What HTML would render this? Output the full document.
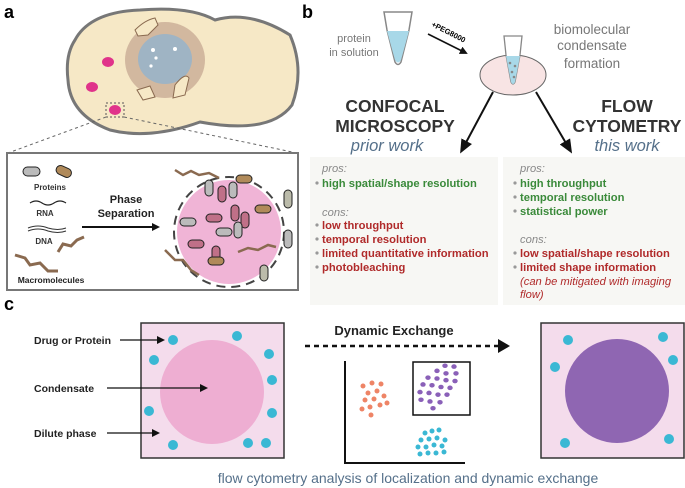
<!DOCTYPE html>
<html><head><meta charset="utf-8"><style>
body{margin:0;background:#fff;overflow:hidden}
svg{display:block;font-family:"Liberation Sans",sans-serif}
</style></head><body>
<svg width="685" height="488" viewBox="0 0 685 488" xmlns="http://www.w3.org/2000/svg">
<defs>
<marker id="ah" markerWidth="8" markerHeight="8" refX="6" refY="4" orient="auto" markerUnits="userSpaceOnUse"><path d="M0,0 L8,4 L0,8z" fill="#111"/></marker>
<marker id="ab" markerWidth="14" markerHeight="12" refX="10" refY="6" orient="auto" markerUnits="userSpaceOnUse"><path d="M0,0 L14,6 L0,12z" fill="#111"/></marker>
</defs>
<!-- a -->
<text x="4" y="18" font-size="18" font-weight="bold">a</text>
<path d="M75,40 Q90,12 140,10 Q190,6 215,20 Q250,10 290,35 Q305,70 292,105 Q270,135 200,122 Q150,140 110,130 Q70,115 68,80 Q65,55 75,40z" fill="#f6e8c6" stroke="#777" stroke-width="3"/>
<ellipse cx="165" cy="60" rx="40" ry="38" fill="#b49080" opacity="0.55"/>
<ellipse cx="165" cy="59" rx="27" ry="25" fill="#9fb4c4"/>
<circle cx="153" cy="50" r="2" fill="#fff"/><circle cx="175" cy="49" r="2" fill="#fff"/><circle cx="156" cy="58" r="1.6" fill="#fff"/><circle cx="151" cy="66" r="1.6" fill="#fff"/>
<path d="M135,30 Q145,20 155,18 L158,25 L148,35 L138,36z M137,90 L150,86 L155,97 L143,100z M175,85 Q185,72 189,78 L185,95 L173,98z" fill="#f6e8c6" stroke="#8a6a50" stroke-width="1"/>
<ellipse cx="108" cy="62" rx="6" ry="5" fill="#e0338a"/>
<ellipse cx="92" cy="87" rx="6" ry="5" fill="#e0338a"/>
<ellipse cx="115" cy="110" rx="6" ry="5" fill="#e0338a"/>
<rect x="106" y="103" width="18" height="14" fill="none" stroke="#555" stroke-dasharray="2,2"/>
<line x1="106" y1="117" x2="8" y2="153" stroke="#666" stroke-dasharray="3,3"/>
<line x1="124" y1="117" x2="297" y2="153" stroke="#666" stroke-dasharray="3,3"/>
<rect x="7" y="153" width="291" height="137" fill="#fff" stroke="#777" stroke-width="2"/>
<rect x="23" y="167" width="17" height="9" rx="4.5" fill="#bbb" stroke="#222"/>
<rect x="56" y="167" width="16" height="9" rx="4.5" fill="#b08a5a" stroke="#222" transform="rotate(25 64 171)"/>
<text x="50" y="190" font-size="8" font-weight="bold" text-anchor="middle" fill="#333">Proteins</text>
<path d="M30,203 q6,-4 12,0 q6,4 12,0 q6,-4 12,0" fill="none" stroke="#222" stroke-width="1.2"/>
<text x="45" y="216" font-size="8" font-weight="bold" text-anchor="middle" fill="#333">RNA</text>
<path d="M28,228 q10,-4 20,0 q10,3 18,0 M28,231 q10,-4 20,0 q10,3 18,0" fill="none" stroke="#333" stroke-width="1"/>
<text x="44" y="244" font-size="8" font-weight="bold" text-anchor="middle" fill="#333">DNA</text>
<path d="M15,255 l10,3 l5,7 l10,-2 l8,8 l10,0 M58,252 l5,-8 l8,2 l6,-6 l7,-3" fill="none" stroke="#8a6a50" stroke-width="3"/>
<text x="51" y="283" font-size="8.5" font-weight="bold" text-anchor="middle" fill="#222">Macromolecules</text>
<text x="126" y="203" font-size="11" font-weight="bold" text-anchor="middle" fill="#222">Phase</text>
<text x="126" y="217" font-size="11" font-weight="bold" text-anchor="middle" fill="#222">Separation</text>
<line x1="82" y1="227" x2="158" y2="227" stroke="#111" stroke-width="2" marker-end="url(#ah)"/>
<circle cx="229" cy="232" r="52" fill="#f0b4d6"/>
<circle cx="229" cy="232" r="55" fill="none" stroke="#444" stroke-width="2" stroke-dasharray="9,6"/>
<g stroke="#222" stroke-width="1">
<rect x="205" y="180" width="8" height="16" rx="4" fill="#bbb"/>
<rect x="218" y="186" width="8" height="16" rx="4" fill="#c07088"/>
<rect x="229" y="182" width="8" height="16" rx="4" fill="#bbb"/>
<rect x="180" y="218" width="16" height="8" rx="4" fill="#bbb"/>
<rect x="206" y="214" width="16" height="8" rx="4" fill="#c07088"/>
<rect x="231" y="205" width="8" height="16" rx="4" fill="#c07088"/>
<rect x="241" y="212" width="8" height="16" rx="4" fill="#c07088"/>
<rect x="216" y="228" width="16" height="8" rx="4" fill="#bbb"/>
<rect x="234" y="222" width="8" height="16" rx="4" fill="#bbb"/>
<rect x="188" y="240" width="16" height="8" rx="4" fill="#c07088"/>
<rect x="212" y="246" width="8" height="16" rx="4" fill="#c07088"/>
<rect x="255" y="205" width="16" height="8" rx="4" fill="#b08a5a"/>
<rect x="236" y="175" width="16" height="8" rx="4" fill="#b08a5a"/>
<rect x="208" y="257" width="16" height="8" rx="4" fill="#b08a5a"/>
<rect x="284" y="190" width="8" height="18" rx="4" fill="#bba"/>
<rect x="284" y="230" width="8" height="18" rx="4" fill="#bbb"/>
<rect x="260" y="265" width="8" height="16" rx="4" fill="#bba"/>
</g>
<path d="M175,170 l8,5 l8,-4 l8,4 l10,-2 l10,5 M165,250 l10,10 l8,0 l8,10 l8,5 M238,252 l10,-4 l10,2 l10,-5 l8,2" fill="none" stroke="#8a6a50" stroke-width="2.5"/>
<!-- b -->
<text x="302" y="18" font-size="18" font-weight="bold">b</text>
<path d="M384,12 L412,12 L409,30 L401,62 Q398,67 395,62 L387,30z" fill="#fff" stroke="#888" stroke-width="1.5"/>
<path d="M387,31 L409,31 L401,60 Q398,65 395,60z" fill="#a8d8e8"/>
<text x="354" y="42" font-size="11" fill="#777" text-anchor="middle">protein</text>
<text x="354" y="56" font-size="11" fill="#777" text-anchor="middle">in solution</text>
<line x1="428" y1="34" x2="466" y2="53" stroke="#111" stroke-width="1.6" marker-end="url(#ah)"/>
<text x="431" y="26" font-size="7.5" font-weight="bold" transform="rotate(27 431 26)">+PEG8000</text>
<ellipse cx="513" cy="75" rx="33" ry="20" fill="#f8e4e4" stroke="#666"/>
<path d="M504,36 L522,36 L520,55 L515,82 Q513,86 511,82 L506,55z" fill="#fff" stroke="#888" stroke-width="1.3"/>
<path d="M506,56 L520,56 L515,82 Q513,86 511,82z" fill="#a8d8e8"/>
<circle cx="510" cy="63" r="1.3" fill="#888"/><circle cx="515" cy="66" r="1.3" fill="#888"/><circle cx="512" cy="72" r="1.3" fill="#888"/><circle cx="514" cy="77" r="1.3" fill="#888"/>
<text x="592" y="34" font-size="13.5" fill="#777" text-anchor="middle">biomolecular</text>
<text x="592" y="50" font-size="13.5" fill="#777" text-anchor="middle">condensate</text>
<text x="592" y="68" font-size="13.5" fill="#777" text-anchor="middle">formation</text>
<line x1="493" y1="92" x2="462" y2="150" stroke="#111" stroke-width="2" marker-end="url(#ab)"/>
<line x1="536" y1="92" x2="570" y2="150" stroke="#111" stroke-width="2" marker-end="url(#ab)"/>
<g font-size="17.5" font-weight="bold" fill="#333" text-anchor="middle">
<text x="395" y="112">CONFOCAL</text><text x="395" y="132">MICROSCOPY</text>
<text x="627" y="112">FLOW</text><text x="627" y="132">CYTOMETRY</text></g>
<g font-size="16.5" font-style="italic" fill="#55708a" text-anchor="middle">
<text x="387" y="151">prior work</text><text x="627" y="151">this work</text></g>
<rect x="310" y="157" width="188" height="148" fill="#f7f7f4"/>
<rect x="503" y="157" width="182" height="148" fill="#f7f7f4"/>
<g font-size="11.2" font-weight="bold">
<text x="322" y="172" font-weight="normal" font-style="italic" fill="#888">pros:</text>
<text x="322" y="187" fill="#3a8a3a">high spatial/shape resolution</text>
<text x="322" y="216" font-weight="normal" font-style="italic" fill="#888">cons:</text>
<text x="322" y="229" fill="#b02a2a">low throughput</text>
<text x="322" y="243" fill="#b02a2a">temporal resolution</text>
<text x="322" y="257" fill="#b02a2a">limited quantitative information</text>
<text x="322" y="271" fill="#b02a2a">photobleaching</text>
<text x="520" y="172" font-weight="normal" font-style="italic" fill="#888">pros:</text>
<text x="520" y="187" fill="#3a8a3a">high throughput</text>
<text x="520" y="201" fill="#3a8a3a">temporal resolution</text>
<text x="520" y="215" fill="#3a8a3a">statistical power</text>
<text x="520" y="243" font-weight="normal" font-style="italic" fill="#888">cons:</text>
<text x="520" y="257" fill="#b02a2a">low spatial/shape resolution</text>
<text x="520" y="271" fill="#b02a2a">limited shape information</text>
<text x="520" y="285" font-weight="normal" font-style="italic" fill="#b02a2a">(can be mitigated with imaging</text>
<text x="520" y="298" font-weight="normal" font-style="italic" fill="#b02a2a">flow)</text>
</g>
<g fill="#999"><circle cx="317" cy="183" r="1.6"/><circle cx="317" cy="225" r="1.6"/><circle cx="317" cy="239" r="1.6"/><circle cx="317" cy="253" r="1.6"/><circle cx="317" cy="267" r="1.6"/>
<circle cx="515" cy="183" r="1.6"/><circle cx="515" cy="197" r="1.6"/><circle cx="515" cy="211" r="1.6"/><circle cx="515" cy="253" r="1.6"/><circle cx="515" cy="267" r="1.6"/></g>
<!-- c -->
<text x="4" y="310" font-size="18" font-weight="bold">c</text>
<rect x="141" y="323" width="143" height="135" fill="#f4dcec" stroke="#333" stroke-width="1.5"/>
<ellipse cx="212" cy="392" rx="52" ry="52" fill="#eeaed2"/>
<g fill="#3ab8d4"><circle cx="173" cy="340" r="5"/><circle cx="237" cy="336" r="5"/><circle cx="154" cy="360" r="5"/><circle cx="269" cy="354" r="5"/><circle cx="272" cy="380" r="5"/><circle cx="149" cy="411" r="5"/><circle cx="272" cy="413" r="5"/><circle cx="173" cy="445" r="5"/><circle cx="248" cy="443" r="5"/><circle cx="266" cy="443" r="5"/></g>
<g font-size="10.5" font-weight="bold" fill="#222">
<text x="34" y="344">Drug or Protein</text><text x="34" y="392">Condensate</text><text x="34" y="437">Dilute phase</text></g>
<line x1="120" y1="340" x2="163" y2="340" stroke="#111" stroke-width="1.2" marker-end="url(#ah)"/>
<line x1="107" y1="388" x2="206" y2="388" stroke="#111" stroke-width="1.2" marker-end="url(#ah)"/>
<line x1="107" y1="433" x2="158" y2="433" stroke="#111" stroke-width="1.2" marker-end="url(#ah)"/>
<text x="394" y="335" font-size="13" font-weight="bold" fill="#222" text-anchor="middle">Dynamic Exchange</text>
<line x1="305" y1="346" x2="500" y2="346" stroke="#111" stroke-width="2.5" stroke-dasharray="5,4"/>
<path d="M498,339 L510,346 L498,353z" fill="#111"/>
<polyline points="345,361 345,463 465,463" fill="none" stroke="#111" stroke-width="2"/>
<rect x="413" y="362" width="57" height="53" fill="#fff" stroke="#111" stroke-width="1.5"/>
<g fill="#ee8466" transform="translate(0,-9)"><circle cx="363" cy="395" r="2.5"/><circle cx="372" cy="392" r="2.5"/><circle cx="381" cy="393" r="2.5"/><circle cx="368" cy="402" r="2.5"/><circle cx="377" cy="400" r="2.5"/><circle cx="365" cy="409" r="2.5"/><circle cx="374" cy="408" r="2.5"/><circle cx="384" cy="405" r="2.5"/><circle cx="370" cy="416" r="2.5"/><circle cx="380" cy="414" r="2.5"/><circle cx="362" cy="418" r="2.5"/><circle cx="371" cy="424" r="2.5"/><circle cx="387" cy="412" r="2.5"/></g>
<g fill="#8a60b8" transform="translate(439,387) scale(1,0.85) translate(-439,-417)"><circle cx="445" cy="392" r="2.7"/><circle cx="454" cy="393" r="2.7"/><circle cx="437" cy="398" r="2.7"/><circle cx="446" cy="401" r="2.7"/><circle cx="456" cy="401" r="2.7"/><circle cx="428" cy="406" r="2.7"/><circle cx="437" cy="407" r="2.7"/><circle cx="446" cy="409" r="2.7"/><circle cx="455" cy="410" r="2.7"/><circle cx="423" cy="414" r="2.7"/><circle cx="432" cy="415" r="2.7"/><circle cx="441" cy="417" r="2.7"/><circle cx="450" cy="418" r="2.7"/><circle cx="420" cy="423" r="2.7"/><circle cx="429" cy="424" r="2.7"/><circle cx="438" cy="426" r="2.7"/><circle cx="447" cy="426" r="2.7"/><circle cx="421" cy="432" r="2.7"/><circle cx="430" cy="434" r="2.7"/><circle cx="440" cy="435" r="2.7"/><circle cx="433" cy="442" r="2.7"/></g>
<g fill="#3ab8d4" transform="translate(0,-50)"><circle cx="425" cy="483" r="2.5"/><circle cx="432" cy="481" r="2.5"/><circle cx="439" cy="480" r="2.5"/><circle cx="421" cy="490" r="2.5"/><circle cx="429" cy="489" r="2.5"/><circle cx="437" cy="488" r="2.5"/><circle cx="445" cy="490" r="2.5"/><circle cx="418" cy="497" r="2.5"/><circle cx="426" cy="497" r="2.5"/><circle cx="434" cy="495" r="2.5"/><circle cx="442" cy="496" r="2.5"/><circle cx="420" cy="504" r="2.5"/><circle cx="428" cy="503" r="2.5"/><circle cx="436" cy="503" r="2.5"/><circle cx="444" cy="502" r="2.5"/></g>
<rect x="541" y="323" width="143" height="135" fill="#f4dcec" stroke="#333" stroke-width="1.5"/>
<ellipse cx="617" cy="391" rx="52" ry="52" fill="#8f66b2"/>
<g fill="#3ab8d4"><circle cx="568" cy="340" r="5"/><circle cx="663" cy="337" r="5"/><circle cx="555" cy="367" r="5"/><circle cx="673" cy="360" r="5"/><circle cx="565" cy="443" r="5"/><circle cx="669" cy="439" r="5"/></g>
<text x="408" y="483" font-size="14" fill="#55708a" text-anchor="middle">flow cytometry analysis of localization and dynamic exchange</text>
</svg>
</body></html>
